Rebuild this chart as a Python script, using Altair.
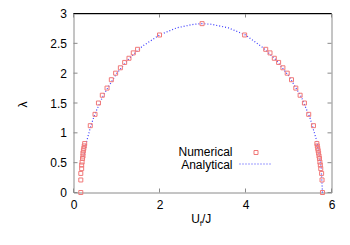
import altair as alt
import pandas as pd

# Numerical data (U_f/J, lambda)
num_u = [0.17, 0.17, 0.17, 0.19, 0.19, 0.20, 0.21, 0.22, 0.22, 0.23, 0.24, 0.25, 0.26,
         0.39, 0.50, 0.58, 0.67, 0.78, 0.88, 0.98, 1.09, 1.19, 1.29, 1.39, 1.49, 2.00,
         2.99, 3.98, 4.47, 4.57, 4.67, 4.77, 4.87, 4.97, 5.07, 5.17, 5.27, 5.37, 5.47,
         5.58, 5.66, 5.67, 5.68, 5.69, 5.70, 5.71, 5.72, 5.73, 5.74, 5.75, 5.77, 5.78, 5.79]
num_l = [0.00, 0.21, 0.32, 0.40, 0.46, 0.51, 0.57, 0.61, 0.66, 0.70, 0.74, 0.78, 0.82,
         1.12, 1.31, 1.50, 1.63, 1.75, 1.89, 2.00, 2.09, 2.18, 2.25, 2.34, 2.40, 2.64,
         2.83, 2.64, 2.40, 2.34, 2.25, 2.18, 2.09, 2.00, 1.89, 1.75, 1.63, 1.50, 1.31,
         1.12, 0.82, 0.78, 0.74, 0.70, 0.66, 0.61, 0.57, 0.51, 0.46, 0.40, 0.32, 0.21, 0.00]

# Analytical curve
ana_u = [0.24, 0.3, 0.4, 0.5, 0.7, 1.0, 1.3, 1.6, 2.0, 2.4, 2.8, 3.0, 3.2, 3.6, 4.0,
         4.4, 4.7, 5.0, 5.3, 5.5, 5.65, 5.72, 5.76, 5.79]
ana_l = [0.60, 0.84, 1.11, 1.32, 1.64, 1.99, 2.25, 2.45, 2.64, 2.76, 2.82, 2.83, 2.82,
         2.76, 2.64, 2.43, 2.23, 1.96, 1.60, 1.25, 0.88, 0.62, 0.41, 0.00]

x_ticks = [0, 2, 4, 6]
y_ticks = [0, 0.5, 1, 1.5, 2, 2.5, 3]

W, H = 258, 179
FONT = "Liberation Sans"
GRAY = "#8a8a8a"
RED = "#f07878"
BLUE = "#3a3aff"

num_df = pd.DataFrame({"u": num_u, "l": num_l})
ana_df = pd.DataFrame({"u": ana_u, "l": ana_l})
xt_df = pd.DataFrame({"u": x_ticks})
yt_df = pd.DataFrame({"l": y_ticks})

xscale = alt.Scale(domain=[0, 6], nice=False, zero=False)
yscale = alt.Scale(domain=[0, 3], nice=False, zero=False)

xaxis = alt.Axis(values=x_ticks, title=None, format="~g")
yaxis = alt.Axis(values=y_ticks, title=None, format="~g")

line = alt.Chart(ana_df).mark_line(color=BLUE, strokeDash=[1, 2], strokeWidth=1.2).encode(
    x=alt.X("u:Q", scale=xscale, axis=xaxis),
    y=alt.Y("l:Q", scale=yscale, axis=yaxis),
    order="u:Q",
)

pts = alt.Chart(num_df).mark_point(shape="square", filled=False, size=16, color=RED,
                                    strokeWidth=1, opacity=1).encode(
    x=alt.X("u:Q", scale=xscale, axis=xaxis),
    y=alt.Y("l:Q", scale=yscale, axis=yaxis),
)

# inward ticks
xt_bot = alt.Chart(xt_df).mark_rule(color=GRAY).encode(
    x=alt.X("u:Q", scale=xscale, axis=xaxis), y=alt.value(H), y2=alt.value(H - 4))
xt_top = alt.Chart(xt_df).mark_rule(color=GRAY).encode(
    x=alt.X("u:Q", scale=xscale, axis=xaxis), y=alt.value(0), y2=alt.value(4))
yt_left = alt.Chart(yt_df).mark_rule(color=GRAY).encode(
    y=alt.Y("l:Q", scale=yscale, axis=yaxis), x=alt.value(0), x2=alt.value(4))
yt_right = alt.Chart(yt_df).mark_rule(color=GRAY).encode(
    y=alt.Y("l:Q", scale=yscale, axis=yaxis), x=alt.value(W), x2=alt.value(W - 4))

t_df = pd.DataFrame({"a": [0]})
top_border = alt.Chart(t_df).mark_rule(color="black", strokeWidth=1).encode(
    x=alt.value(0), x2=alt.value(W), y=alt.value(0))

# legend
leg_df = pd.DataFrame({"t": ["Numerical", "Analytical"], "yy": [138.5, 151.5]})
leg_text = alt.Chart(leg_df).mark_text(align="right", baseline="middle", font=FONT,
                                        fontSize=12, color="black").encode(
    text="t:N", x=alt.value(159), y=alt.Y("yy:Q", scale=None))
leg_pt = alt.Chart(t_df).mark_point(shape="square", filled=False, size=16,
                                    color=RED, strokeWidth=1, opacity=1).encode(
    x=alt.value(182.5), y=alt.value(139))
leg_line = alt.Chart(t_df).mark_rule(color=BLUE, strokeDash=[1, 2],
                                     strokeWidth=1.2).encode(
    x=alt.value(166), x2=alt.value(199), y=alt.value(150.5))

# axis titles
xt_U = alt.Chart(t_df).mark_text(align="right", baseline="alphabetic", font=FONT,
                                 fontSize=12, color="black").encode(
    text=alt.value("U"), x=alt.value(126.3), y=alt.value(209))
xt_f = alt.Chart(t_df).mark_text(align="left", baseline="alphabetic", font=FONT,
                                 fontSize=8, color="black").encode(
    text=alt.value("f"), x=alt.value(126.3), y=alt.value(212))
xt_J = alt.Chart(t_df).mark_text(align="left", baseline="alphabetic", font=FONT,
                                 fontSize=12, color="black").encode(
    text=alt.value("/J"), x=alt.value(128.5), y=alt.value(209))
yt_lam = alt.Chart(t_df).mark_text(align="center", baseline="middle", font=FONT,
                                   fontSize=12, color="black", angle=270).encode(
    text=alt.value("λ"), x=alt.value(-51), y=alt.value(91))

chart = alt.layer(
    line, pts, xt_bot, xt_top, yt_left, yt_right, top_border,
    leg_text, leg_pt, leg_line, xt_U, xt_f, xt_J, yt_lam
).properties(
    width=W, height=H,
    autosize=alt.AutoSizeParams(type="none"),
    padding={"left": 65.5, "top": 5.5, "right": 4, "bottom": 40},
    background="white",
).configure_view(stroke=GRAY, strokeWidth=1).configure_axis(
    domain=False, ticks=False, grid=False, labelFont=FONT, labelFontSize=12,
    labelColor="black", labelPadding=7, labelOverlap=False, labelFlush=False
)

chart.save("out.html", embed_options={"renderer": "svg", "actions": False})
